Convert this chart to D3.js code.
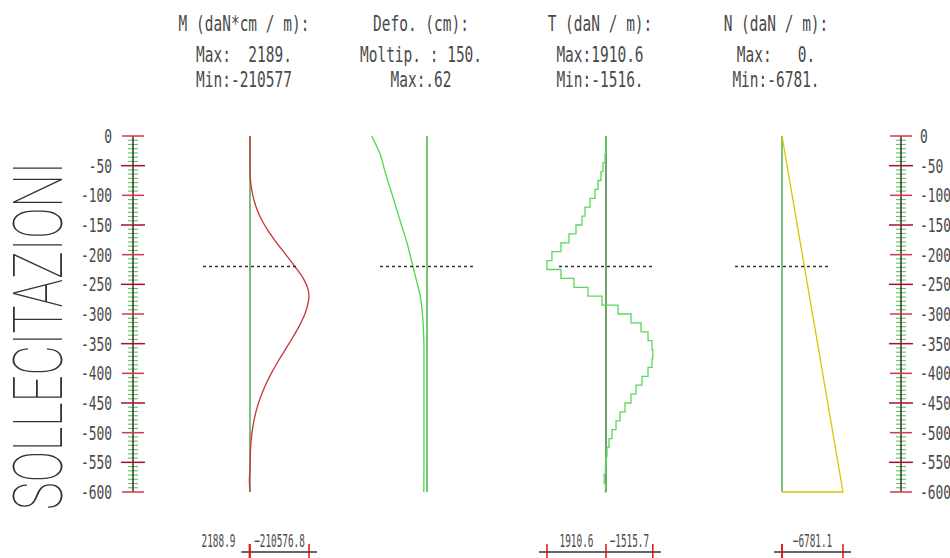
<!DOCTYPE html>
<html>
<head>
<meta charset="utf-8">
<script src="https://cdn.jsdelivr.net/npm/d3@7"></script>
<style>
  body { margin: 0; background: #fff; }
  svg { display: block; }
  text { white-space: pre; }
</style>
</head>
<body>
<script>
// size of the page
var width = 950, height = 558;

// header lines of the four diagrams
var headM = ["M (daN*cm / m):", "Max:  2189.", "Min:-210577"];
var headD = ["Defo. (cm):", "Moltip. : 150.", "Max:.62"];
var headT = ["T (daN / m):", "Max:1910.6", "Min:-1516."];
var headN = ["N (daN / m):", "Max:   0.", "Min:-6781."];

// moment along the wall (depth in cm)
var depthM = [0, -60, -80, -100, -120, -140, -160, -180, -200, -220, -240, -260, -270,
              -280, -300, -320, -340, -360, -380, -400, -420, -440, -460, -480, -500,
              -520, -540, -560, -580, -600];
var valM = [0, 0, -3000, -10000, -22000, -40000, -65000, -95000, -128000, -160000, -190000,
            -208000, -210576.8, -208000, -196000, -176000, -152000, -126000, -100000, -76000,
            -55000, -38000, -24000, -14000, -7000, -3000, -1000, 0, 2188.9, 0];

// deformation (cm), drawn times 150
var depthD = [0, -15, -30, -60, -90, -120, -150, -180, -210, -240, -270, -300, -330, -360,
              -400, -450, -500, -550, -600];
var valD = [0.62, 0.573, 0.528, 0.472, 0.41, 0.348, 0.287, 0.225, 0.174, 0.124, 0.076,
            0.051, 0.039, 0.034, 0.034, 0.034, 0.034, 0.034, 0.036];
var moltip = 150;

// shear, one value for each 15 cm element
var depthT = d3.range(0, -601, -15);
var valT = [0, 0, 32, 97, 162, 259, 356, 518, 680, 778, 972, 1199, 1458, 1750, 1910.6,
            1458, 1037, 583, 130, -389, -810, -1134, -1361, -1490, -1515.7, -1490, -1361,
            -1166, -972, -810, -616, -454, -324, -194, -97, -32, 0, 20, 60, 20, 0];

// axial force, linear
var depthN = [0, -600, -600];
var valN = [0, -6781.1, 0];

// extremes written under the diagrams
var barM = [2188.9, -210576.8];
var barT = [1910.6, -1515.7];
var barN = [0, -6781.1];

// depth scale ticks
var majorTicks = d3.range(0, -601, -50);
var minorTicks = d3.range(0, -601, -50 / 7);
var dashDepth = -220;

var y = d3.scaleLinear().domain([0, -600]).range([136, 492]);
var pxPerCm = (y.range()[1] - y.range()[0]) / 600;

var svg = d3.select("body").append("svg")
    .attr("width", width)
    .attr("height", height);

svg.append("rect").attr("width", width).attr("height", height).attr("fill", "#fff");

// narrow plotter-like text
function txt(g, x, yy, s, size, sx, anchor) {
    return g.append("text")
        .attr("transform", "translate(" + x + "," + yy + ") scale(" + sx + ",1)")
        .attr("text-anchor", anchor)
        .attr("font-family", "DejaVu Sans Mono")
        .attr("font-size", size)
        .attr("fill", "#4a4a4a")
        .text(s);
}

// depth rulers left and right
function ruler(x, labelX, anchor) {
    var g = svg.append("g");
    g.selectAll(".minor")
        .data(minorTicks.filter(function(d, i) { return i % 7 != 0; }))
        .enter().append("line")
        .attr("x1", x - 5).attr("x2", x + 5)
        .attr("y1", function(d) { return y(d); })
        .attr("y2", function(d) { return y(d); })
        .attr("stroke", "#52cc52").attr("stroke-width", 1.1);
    g.append("line")
        .attr("x1", x).attr("x2", x)
        .attr("y1", y(0)).attr("y2", y(-600))
        .attr("stroke", "#3a1a2a").attr("stroke-width", 1.4);
    g.selectAll(".major")
        .data(majorTicks)
        .enter().append("line")
        .attr("x1", function(d) { return x - (d % 100 ? 12 : 11); })
        .attr("x2", function(d) { return x + (d % 100 ? 12 : 11); })
        .attr("y1", function(d) { return y(d); })
        .attr("y2", function(d) { return y(d); })
        .attr("stroke", function(d) { return d % 100 ? "#a8102a" : "#d4384a"; })
        .attr("stroke-width", 1.5);
    majorTicks.forEach(function(d) {
        txt(g, labelX, y(d) + 7, String(d), 19, 0.68, anchor);
    });
}
ruler(133, 112, "end");
ruler(901, 920, "start");

// big vertical title
svg.append("text")
    .attr("transform", "translate(62,510) rotate(-90)")
    .attr("font-family", "Roboto")
    .attr("font-weight", 100)
    .attr("font-size", 68)
    .attr("textLength", 348)
    .attr("lengthAdjust", "spacingAndGlyphs")
    .attr("fill", "#333")
    .text("SOLLECITAZIONI");

// one diagram column
function column(cx, head, xs, depths, vals, curve, color, axisColor, bar) {
    var g = svg.append("g");
    head.forEach(function(s, i) {
        txt(g, cx - 6, [31, 62, 87][i], s, 21, 0.69, "middle");
    });
    g.append("line")
        .attr("x1", cx).attr("x2", cx)
        .attr("y1", y(0)).attr("y2", y(-600))
        .attr("stroke", axisColor).attr("stroke-width", 1.3);

    var line = d3.line()
        .x(function(d, i) { return xs(vals[i]); })
        .y(function(d) { return y(d); })
        .curve(curve);
    g.append("path")
        .attr("d", line(depths))
        .attr("fill", "none")
        .attr("stroke", color)
        .attr("stroke-width", 1.3);

    g.append("line")
        .attr("x1", cx - 47).attr("x2", cx + 47)
        .attr("y1", y(dashDepth)).attr("y2", y(dashDepth))
        .attr("stroke", "#333").attr("stroke-width", 1.6)
        .attr("stroke-dasharray", "3,3");

    if (!bar) return;
    var pos = [0].concat(bar).map(xs);
    var lo = d3.min(pos), hi = d3.max(pos);
    g.append("line")
        .attr("x1", lo - 8).attr("x2", hi + 8)
        .attr("y1", 552).attr("y2", 552)
        .attr("stroke", "#333").attr("stroke-width", 1.5);
    g.selectAll(".tk").data(pos).enter().append("line")
        .attr("x1", function(d) { return d; }).attr("x2", function(d) { return d; })
        .attr("y1", 544).attr("y2", 560)
        .attr("stroke", "#e01010").attr("stroke-width", 1.5);
    bar.forEach(function(v) {
        if (v == 0) return;
        var s = d3.format(".1f")(v);
        var w = s.length * 5.4;
        var span = Math.abs(xs(v) - cx);
        if (span > w) txt(g, (xs(v) + cx) / 2, 547, s, 18, 0.52, "middle");
        else txt(g, Math.min(xs(v), cx) - 14, 547, s, 18, 0.52, "end");
    });
}

var xM = d3.scaleLinear().domain([0, -210576.8]).range([250, 309]);
var xD = d3.scaleLinear().domain([0, 0.62]).range([427, 427 - 0.62 * moltip * pxPerCm]);
var xT = d3.scaleLinear().domain([0, 1910.6]).range([606, 547]);
var xN = d3.scaleLinear().domain([0, -6781.1]).range([782, 843]);

column(250, headM, xM, depthM, valM, d3.curveMonotoneY, "#c83238", "#3a9a3a", barM);
column(427, headD, xD, depthD, valD, d3.curveMonotoneY, "#4ed84e", "#2aa82a", null);
column(606, headT, xT, depthT, valT, d3.curveStepBefore, "#5cd65c", "#1e6e1e", barT);
column(782, headN, xN, depthN, valN, d3.curveLinear, "#dcc400", "#3aa03a", barN);
</script>
</body>
</html>
